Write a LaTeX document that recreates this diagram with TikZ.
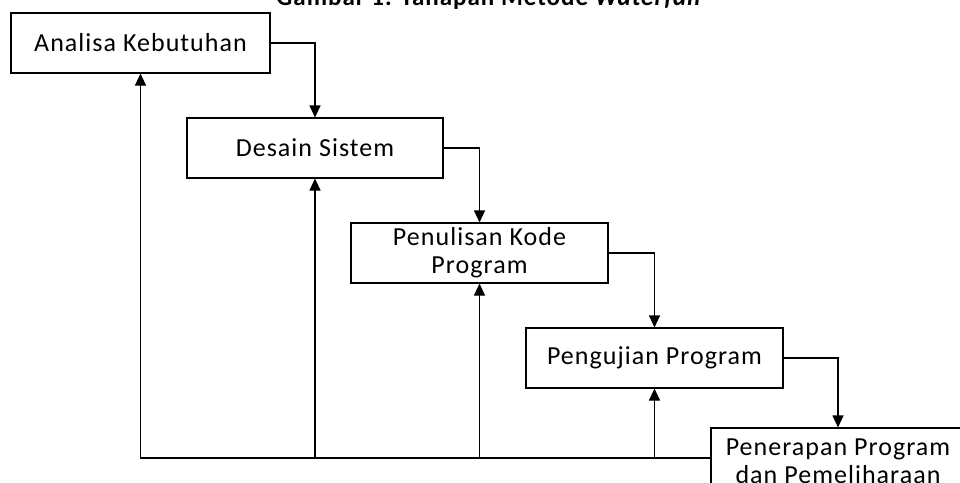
\documentclass[tikz,border=0pt]{standalone}
\usepackage{fontspec}
\setmainfont{Carlito}[LetterSpace=4]
\usetikzlibrary{arrows.meta}
\begin{document}
\begin{tikzpicture}[x=1pt,y=-1pt,
  stage/.style={draw=black, line width=1.1pt, fill=white, inner sep=0pt,
    minimum width=#1, minimum height=60pt, font=\fontsize{26}{28}\selectfont, align=center},
  conn/.style={line width=1.1pt, -{Triangle[length=12pt,width=11pt]}},
  ]
\useasboundingbox (0,0) rectangle (960,482);
\node[anchor=base, font=\bfseries\fontsize{25}{27}\selectfont] (title) at (489,5) {Gambar 1. Tahapan Metode \textit{Waterfall}};
\node[stage=259pt] (b1) at (140.5,43) {Analisa Kebutuhan};
\node[stage=256pt] (b2) at (315,148) {Desain Sistem};
\node[stage=257pt] (b3) at (479.5,253) {Penulisan Kode\\Program};
\node[stage=257pt] (b4) at (654.5,358) {Pengujian Program};
\node[stage=254pt, minimum height=66pt] (b5) at (838,461) {Penerapan Program\\dan Pemeliharaan};
\coordinate (fb) at (711,458);
% forward flow
\draw[conn] (b1.east) -| (b2.north);
\draw[conn] (b2.east) -| (b3.north);
\draw[conn] (b3.east) -| (b4.north);
\draw[conn] (b4.east) -| (b5.north);
% feedback
\draw[conn] (fb) -| (b1.south);
\draw[conn] (b2.south |- fb) -- (b2.south);
\draw[conn] (b3.south |- fb) -- (b3.south);
\draw[conn] (b4.south |- fb) -- (b4.south);
\end{tikzpicture}
\end{document}
